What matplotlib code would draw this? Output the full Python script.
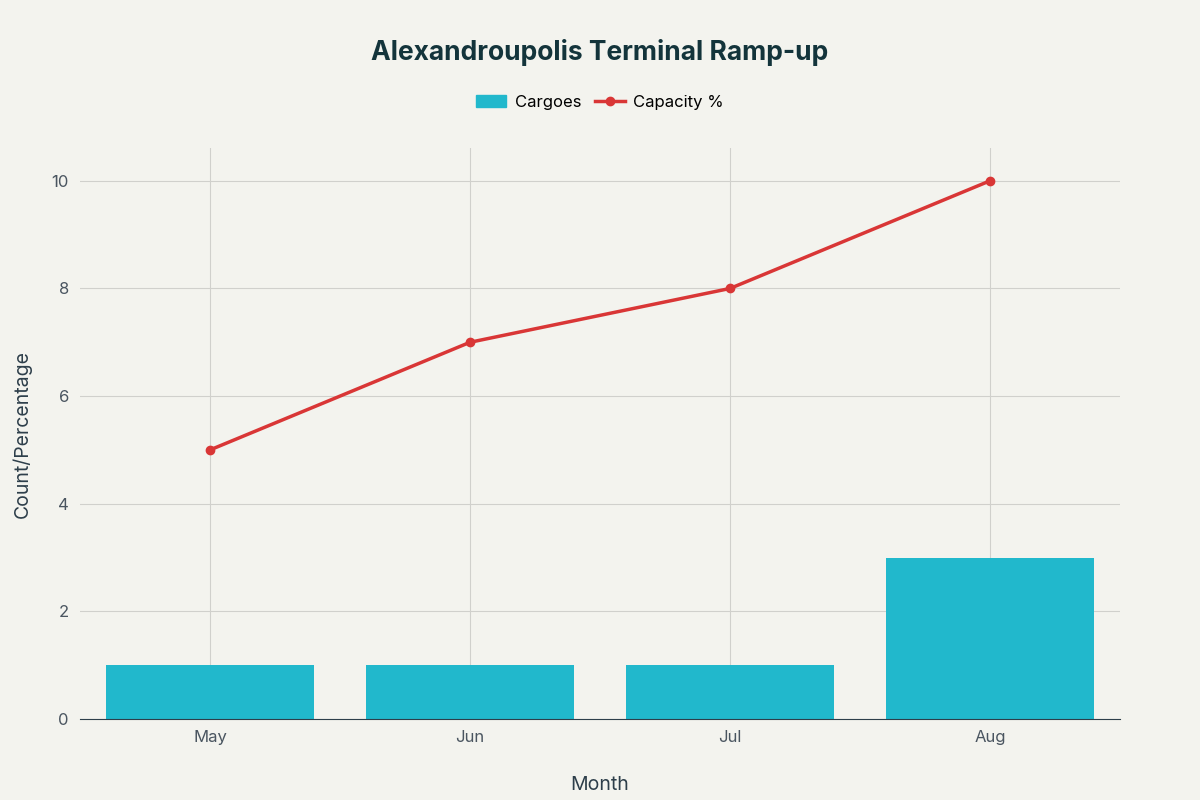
import matplotlib
matplotlib.use("Agg")
import matplotlib.pyplot as plt
from matplotlib.lines import Line2D
from matplotlib.patches import Patch

months = ["May", "Jun", "Jul", "Aug"]
cargoes = [1, 1, 1, 3]
capacity = [5, 7, 8, 10]

plt.rcParams['font.family'] = ['Inter', 'DejaVu Sans']
bg = "#f3f3ee"
fig = plt.figure(figsize=(12, 8), dpi=100, facecolor=bg)
ax = fig.add_axes([0.0667, 0.10125, 0.8666, 0.71375], facecolor=bg)
x = list(range(len(months)))
ax.bar(x, cargoes, width=0.8, color="#21b8cc", zorder=2)
ax.plot(x, capacity, color="#d93636", lw=2.5, marker="o", ms=6, zorder=3)
ax.set_xlim(-0.5, 3.5)
ax.set_ylim(0, 10.61)
ax.set_yticks([0, 2, 4, 6, 8, 10])
ax.set_xticks(x)
ax.set_xticklabels(months)
ax.grid(True, color="#d0d0cc", lw=0.8, zorder=0)
for s in ["top", "right", "left"]:
    ax.spines[s].set_visible(False)
ax.spines["bottom"].set_color("#2d3e4a")
ax.tick_params(length=0, labelsize=12, colors="#4a5560", pad=8)
ax.set_xlabel("Month", fontsize=14, color="#2d3e4a", labelpad=22)
ax.set_ylabel("Count/Percentage", fontsize=14, color="#2d3e4a", labelpad=14)
fig.text(0.5, 0.935, "Alexandroupolis Terminal Ramp-up", ha="center", va="center",
         fontsize=19, fontweight="bold", color="#13343b")
handles = [Patch(color="#21b8cc", label="Cargoes"),
           Line2D([0], [0], color="#d93636", lw=2.5, marker="o", ms=6, label="Capacity %")]
fig.legend(handles=handles, loc="center", bbox_to_anchor=(0.5, 0.872), ncol=2,
           frameon=False, fontsize=12, handlelength=1.8, columnspacing=0.8,
           handletextpad=0.5)
fig.savefig("out.png", facecolor=bg)
